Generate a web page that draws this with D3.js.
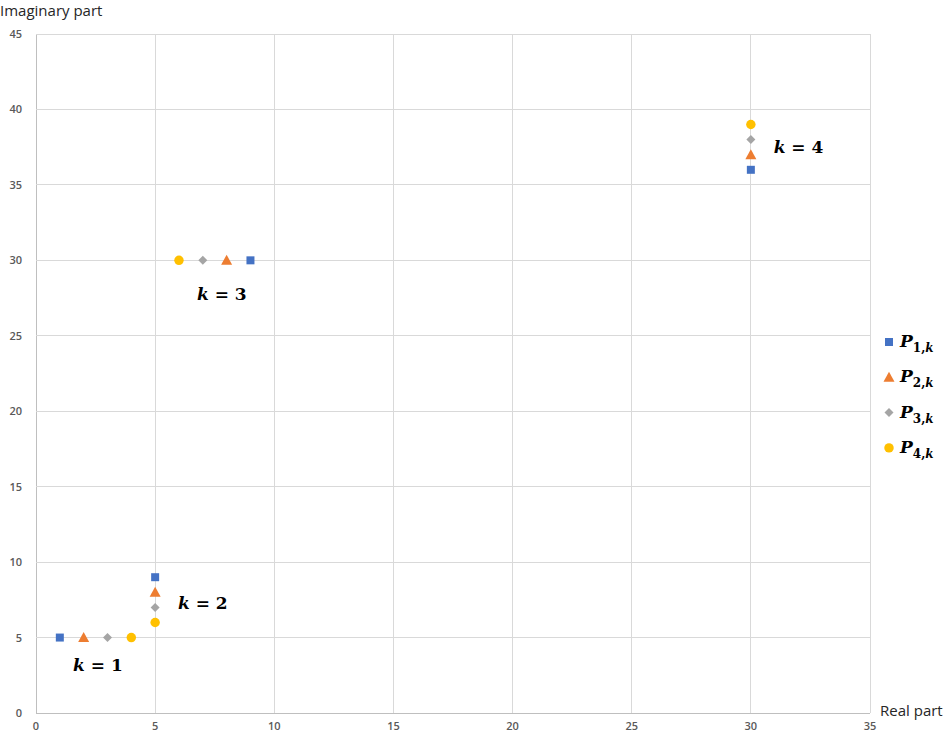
<!DOCTYPE html>
<html><head><meta charset="utf-8">
<script src="https://cdn.jsdelivr.net/npm/d3@7"></script>
<style>body{margin:0;background:#fff}</style>
</head><body>
<svg id="c" width="945" height="734"></svg>
<script>
const seriesNames = ["1","2","3","4"];
const colors = ["#4472C4","#ED7D31","#A5A5A5","#FFC000"];
const shapes = ["square","triangle","diamond","circle"];
const p1 = [[1,5],[5,9],[9,30],[30,36]];
const p2 = [[2,5],[5,8],[8,30],[30,37]];
const p3 = [[3,5],[5,7],[7,30],[30,38]];
const p4 = [[4,5],[5,6],[6,30],[30,39]];
const series = [p1,p2,p3,p4];
const xTicks = [0,5,10,15,20,25,30,35];
const yTicks = [0,5,10,15,20,25,30,35,40,45];
const labels = [{k:"1",x:2.6,y:2.8},{k:"2",x:7.0,y:6.9},{k:"3",x:7.8,y:27.4},{k:"4",x:32.0,y:37.1}];

const svg = d3.select("#c");
const x = d3.scaleLinear().domain([0,35]).range([36,870]);
const y = d3.scaleLinear().domain([0,45]).range([713,34]);

// grid
svg.append("g").selectAll("line").data(xTicks).join("line")
  .attr("x1",d=>x(d)).attr("x2",d=>x(d)).attr("y1",y(0)).attr("y2",y(45))
  .attr("stroke",d=>d===0?"#bfbfbf":"#d9d9d9").attr("stroke-width",1).attr("shape-rendering","crispEdges");
svg.append("g").selectAll("line").data(yTicks).join("line")
  .attr("y1",d=>y(d)).attr("y2",d=>y(d)).attr("x1",x(0)).attr("x2",x(35))
  .attr("stroke",d=>d===0?"#bfbfbf":"#d9d9d9").attr("stroke-width",1).attr("shape-rendering","crispEdges");

// tick labels
const tf = "'Open Sans', 'Liberation Sans', sans-serif";
svg.append("g").selectAll("text").data(yTicks).join("text")
  .attr("x",22).attr("y",d=>y(d)+4).attr("text-anchor","end")
  .attr("font-family",tf).attr("font-size",11).attr("font-weight","600").attr("fill","#595959").text(d=>d);
svg.append("g").selectAll("text").data(xTicks).join("text")
  .attr("x",d=>x(d)).attr("y",730).attr("text-anchor","middle")
  .attr("font-family",tf).attr("font-size",11).attr("font-weight","600").attr("fill","#595959").text(d=>d);

// axis titles
svg.append("text").attr("x",0).attr("y",16).attr("font-family",tf).attr("font-size",15).attr("fill","#262626").text("Imaginary part");
svg.append("text").attr("x",880).attr("y",716).attr("font-family",tf).attr("font-size",15).attr("fill","#262626").text("Real part");

function symbolFor(s){
  if(s==="square") return "M-4,-4H4V4H-4Z";
  if(s==="triangle") return "M0,-5.5L5.5,4.5H-5.5Z";
  if(s==="diamond") return "M0,-4.5L4.5,0L0,4.5L-4.5,0Z";
  return d3.symbol(d3.symbolCircle,70)();
}

series.forEach((data,i)=>{
  svg.append("g").selectAll("path").data(data).join("path")
    .attr("transform",d=>`translate(${x(d[0])},${y(d[1])})`)
    .attr("d",symbolFor(shapes[i])).attr("fill",colors[i]);
});

// k labels
const mf = "'DejaVu Serif', 'Liberation Serif', serif";
labels.forEach(l=>{
  const t = svg.append("text").attr("x",x(l.x)).attr("y",y(l.y)).attr("text-anchor","middle")
    .attr("font-family",mf).attr("font-size",17).attr("font-weight","bold").attr("fill","#000");
  t.append("tspan").attr("font-style","italic").text("k");
  t.append("tspan").text(" = "+l.k);
});

// legend
const leg = svg.append("g");
seriesNames.forEach((n,i)=>{
  const ly = 342 + i*35.3;
  leg.append("path").attr("transform",`translate(889,${ly})`).attr("d",symbolFor(shapes[i])).attr("fill",colors[i]);
  const t = leg.append("text").attr("x",900).attr("y",ly+5).attr("font-family",mf).attr("font-size",17).attr("font-weight","bold").attr("fill","#000");
  t.append("tspan").attr("font-style","italic").text("P");
  t.append("tspan").attr("font-size",12).attr("dy",5).text(n+",");
  t.append("tspan").attr("font-size",12).attr("font-style","italic").text("k");
});
</script>
</body></html>
